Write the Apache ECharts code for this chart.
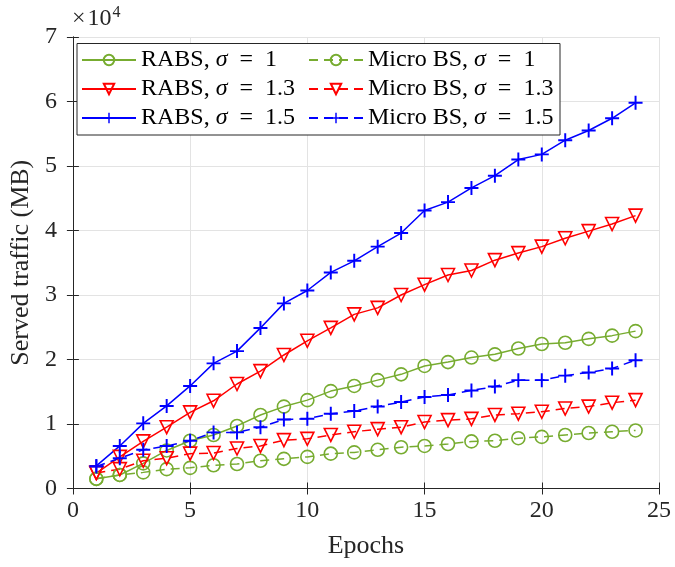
<!DOCTYPE html>
<html>
<head>
<meta charset="utf-8">
<script src="https://cdn.jsdelivr.net/npm/echarts@6/dist/echarts.min.js"></script>
<style>html,body{margin:0;padding:0;background:#fff}#c{width:675px;height:567px}</style>
</head>
<body>
<div id="c"></div>
<script>
// Data (served traffic in units of 10^4 MB)
var epochs = [1,2,3,4,5,6,7,8,9,10,11,12,13,14,15,16,17,18,19,20,21,22,23,24];
var rabs1   = [0.15,0.21,0.39,0.59,0.74,0.83,0.97,1.14,1.27,1.37,1.51,1.59,1.68,1.77,1.90,1.96,2.03,2.08,2.17,2.24,2.26,2.32,2.37,2.44];
var rabs13  = [0.24,0.49,0.73,0.95,1.18,1.36,1.62,1.82,2.07,2.29,2.49,2.70,2.80,3.00,3.16,3.31,3.38,3.54,3.65,3.75,3.88,3.99,4.10,4.23];
var rabs15  = [0.35,0.66,1.01,1.28,1.59,1.94,2.13,2.49,2.87,3.07,3.35,3.53,3.75,3.96,4.31,4.44,4.66,4.85,5.10,5.18,5.40,5.55,5.74,5.98];
var micro1  = [0.15,0.21,0.25,0.30,0.32,0.36,0.38,0.43,0.46,0.49,0.54,0.56,0.60,0.64,0.66,0.69,0.73,0.74,0.78,0.80,0.83,0.86,0.88,0.90];
var micro13 = [0.24,0.30,0.43,0.47,0.54,0.55,0.62,0.66,0.75,0.77,0.83,0.88,0.92,0.95,1.03,1.06,1.08,1.14,1.16,1.19,1.24,1.27,1.33,1.37];
var micro15 = [0.34,0.47,0.60,0.66,0.74,0.87,0.87,0.95,1.07,1.08,1.16,1.20,1.27,1.34,1.42,1.45,1.52,1.58,1.68,1.68,1.75,1.80,1.86,1.99];
var xTicks = [0,5,10,15,20,25];
var yTicks = [0,1,2,3,4,5,6,7];
var names = ['RABS, σ = 1','RABS, σ = 1.3','RABS, σ = 1.5','Micro BS, σ = 1','Micro BS, σ = 1.3','Micro BS, σ = 1.5'];

var FONT = '"Liberation Serif", serif';
var GREEN = '#77AC30', RED = '#FF0000', BLUE = '#0000FF';
var AX = '#262626';
var PLUS = 'path://M4.3,0H5.7V10H4.3ZM0,4.3H10V5.7H0Z';

function pairs(v){ return epochs.map(function(e,i){ return [e, v[i]]; }); }
function mk(name, data, color, symbol, dashed){
  var isPlus = symbol === 'plus';
  return {
    name: name, type: 'line', data: pairs(data),
    symbol: isPlus ? PLUS : (symbol === 'tri' ? 'triangle' : 'circle'),
    symbolRotate: symbol === 'tri' ? 180 : 0,
    symbolSize: isPlus ? 14 : 13,
    showAllSymbol: true,
    lineStyle: { color: color, width: 1.5, type: dashed ? [9,6] : 'solid' },
    itemStyle: isPlus ? { color: color, borderWidth: 0 } : { color: 'rgba(255,255,255,0)', borderColor: color, borderWidth: 1.6 },
    emphasis: { disabled: true },
    animation: false
  };
}

var axisCommon = {
  axisLine: { show: true, lineStyle: { color: AX, width: 1 } },
  axisTick: { show: true, inside: true, length: 6, lineStyle: { color: AX } }
};

var chart = echarts.init(document.getElementById('c'), null, { renderer: 'canvas' });
var LF = 24;
var legendText = {
  color: '#000', fontFamily: FONT, fontSize: LF,
  rich: { i: { fontStyle: 'italic', fontFamily: FONT, fontSize: LF, color: '#000' },
          n: { fontFamily: FONT, fontSize: LF, color: '#000' } }
};
function legFmt(n){
  var p = n.split('σ');
  return '{n|' + p[0] + '}{i|σ}{n|' + p[1].replace(' = ', '\u2002=\u2002') + '}';
}

chart.setOption({
  animation: false,
  backgroundColor: '#fff',
  grid: { left: 71, right: 16, top: 37, bottom: 78.5, containLabel: false },
  xAxis: [
    Object.assign({ type: 'value', min: 0, max: 25, interval: 5, position: 'bottom',
      name: 'Epochs', nameLocation: 'middle', nameGap: 45,
      nameTextStyle: { fontFamily: FONT, fontSize: 26, color: '#262626' },
      axisLabel: { fontFamily: FONT, fontSize: 24, color: '#262626', margin: 10,
        formatter: function(v){ return xTicks.indexOf(v) >= 0 ? String(v) : ''; } },
      splitLine: { show: true, lineStyle: { color: '#e3e3e3', width: 1 } } }, axisCommon),
    Object.assign({ type: 'value', min: 0, max: 25, interval: 5, position: 'top',
      axisLabel: { show: false }, splitLine: { show: false } }, axisCommon)
  ],
  yAxis: [
    Object.assign({ type: 'value', min: 0, max: 7, interval: 1, position: 'left',
      name: 'Served traffic (MB)', nameLocation: 'middle', nameGap: 33,
      nameTextStyle: { fontFamily: FONT, fontSize: 26, color: '#262626' },
      axisLabel: { fontFamily: FONT, fontSize: 24, color: '#262626', margin: 16,
        formatter: function(v){ return yTicks.indexOf(v) >= 0 ? String(v) : ''; } },
      splitLine: { show: true, lineStyle: { color: '#e3e3e3', width: 1 } } }, axisCommon),
    Object.assign({ type: 'value', min: 0, max: 7, interval: 1, position: 'right',
      axisLabel: { show: false }, splitLine: { show: false } }, axisCommon)
  ],
  legend: [
    { data: names.slice(0,3), orient: 'vertical', left: 81, top: 48, padding: 0, itemWidth: 54, itemHeight: 13,
      itemGap: 5, textStyle: legendText, formatter: legFmt, selectedMode: false, z: 10 },
    { data: names.slice(3), orient: 'vertical', left: 308, top: 48, padding: 0, itemWidth: 54, itemHeight: 13,
      itemGap: 5, textStyle: legendText, formatter: legFmt, selectedMode: false, z: 10 }
  ],
  graphic: [
    { type: 'rect', z: 8, shape: { x: 77, y: 43.5, width: 483, height: 91.5 },
      style: { fill: '#fff', stroke: AX, lineWidth: 1 } },
    { type: 'text', left: 72, top: 5, z: 10,
      style: { text: '×\u200a10{s|4}', fontFamily: FONT, fontSize: 24, fill: '#262626',
        rich: { s: { fontFamily: FONT, fontSize: 16, verticalAlign: 'top', padding: [0,0,11,1] } } } }
  ],
  series: [
    mk(names[0], rabs1, GREEN, 'circle', false),
    mk(names[1], rabs13, RED, 'tri', false),
    mk(names[2], rabs15, BLUE, 'plus', false),
    mk(names[3], micro1, GREEN, 'circle', true),
    mk(names[4], micro13, RED, 'tri', true),
    mk(names[5], micro15, BLUE, 'plus', true)
  ]
});
</script>
</body>
</html>
